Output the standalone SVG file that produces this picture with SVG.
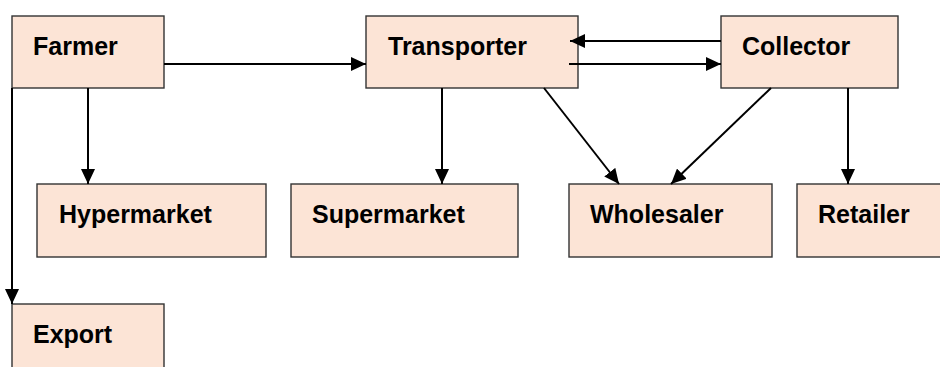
<svg xmlns="http://www.w3.org/2000/svg" width="940" height="367" viewBox="0 0 940 367">
<style>
.box{fill:#FCE4D6;stroke:#333;stroke-width:1.4}
.lbl{font-family:"Liberation Sans",Arial,sans-serif;font-weight:bold;font-size:25px;fill:#000}
.con{fill:none;stroke:#000;stroke-width:2}
</style>
<defs>
<marker id="ah" markerWidth="16" markerHeight="14" refX="15" refY="7" orient="auto" markerUnits="userSpaceOnUse">
<path d="M0,0 L15,7 L0,14 Z" fill="#000"/>
</marker>
</defs>
<rect width="940" height="367" fill="#fff"/>
<g id="farmer"><rect class="box" x="12" y="16" width="152" height="72"/><text class="lbl" x="33" y="55">Farmer</text></g>
<g id="transporter"><rect class="box" x="366" y="16" width="212" height="72"/><text class="lbl" x="388" y="55">Transporter</text></g>
<g id="collector"><rect class="box" x="721" y="16" width="177" height="72"/><text class="lbl" x="742" y="55">Collector</text></g>
<g id="hypermarket"><rect class="box" x="37" y="184" width="229" height="73"/><text class="lbl" x="59" y="223">Hypermarket</text></g>
<g id="supermarket"><rect class="box" x="291" y="184" width="227" height="73"/><text class="lbl" x="312" y="223">Supermarket</text></g>
<g id="wholesaler"><rect class="box" x="569" y="184" width="203" height="73"/><text class="lbl" x="590" y="223">Wholesaler</text></g>
<g id="retailer"><rect class="box" x="797" y="184" width="150" height="73"/><text class="lbl" x="818" y="223">Retailer</text></g>
<g id="export"><rect class="box" x="12" y="304" width="152" height="70"/><text class="lbl" x="33" y="343">Export</text></g>
<g id="connectors">
<line class="con" x1="164" y1="64" x2="366" y2="64" marker-end="url(#ah)"/>
<line class="con" x1="721" y1="41" x2="570" y2="41" marker-end="url(#ah)"/>
<line class="con" x1="569" y1="64" x2="721" y2="64" marker-end="url(#ah)"/>
<line class="con" x1="88" y1="88" x2="88" y2="184" marker-end="url(#ah)"/>
<line class="con" x1="12" y1="88" x2="12" y2="304" marker-end="url(#ah)"/>
<line class="con" x1="442" y1="88" x2="442" y2="184" marker-end="url(#ah)"/>
<line class="con" x1="544" y1="88" x2="619" y2="184" marker-end="url(#ah)"/>
<line class="con" x1="771" y1="88" x2="671" y2="184" marker-end="url(#ah)"/>
<line class="con" x1="848" y1="88" x2="848" y2="184" marker-end="url(#ah)"/>
</g>
</svg>
